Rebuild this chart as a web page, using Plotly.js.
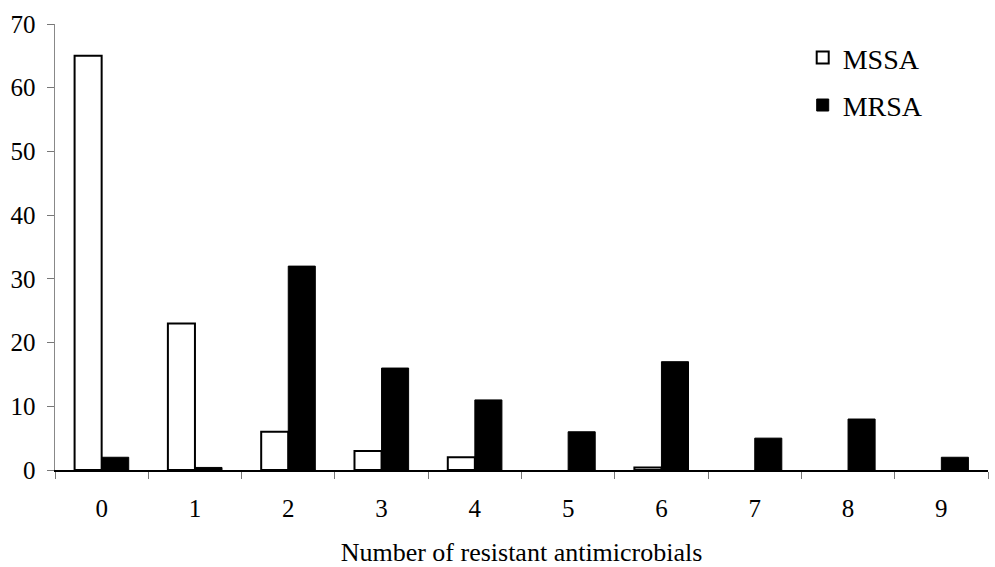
<!DOCTYPE html>
<html>
<head>
<meta charset="utf-8">
<script src="https://cdn.plot.ly/plotly-3.0.1.min.js"></script>
<style>html,body{margin:0;padding:0;background:#fff;}#chart{width:995px;height:567px;}</style>
</head>
<body>
<div id="chart"></div>
<script>
const categories = ["0","1","2","3","4","5","6","7","8","9"];
const mssa = [65, 23, 6, 3, 2, 0, 0.4, 0, 0, 0];
const mrsa = [2, 0.4, 32, 16, 11, 6, 17, 5, 8, 2];
const yTicks = [0, 10, 20, 30, 40, 50, 60, 70];

const font = {family: "'Liberation Serif', 'Times New Roman', serif", color: "#000", size: 25};

const traces = [
  {type: "bar", name: "MSSA", x: categories, y: mssa, legendgroup: "a",
   marker: {color: "#ffffff", line: {color: "#000", width: mssa.map(v => v === 0 ? 0 : 2)}}},
  {type: "bar", name: "MRSA", x: categories, y: mrsa, legendgroup: "b",
   marker: {color: "#000000", line: {color: "#000", width: mrsa.map(v => v === 0 ? 0 : 1)}}}
];

const layout = {
  width: 995, height: 567,
  margin: {l: 55, r: 7, t: 24, b: 97},
  paper_bgcolor: "#fff", plot_bgcolor: "#fff",
  font: font,
  barmode: "group", bargap: 0.42, bargroupgap: 0,
  showlegend: true,
  legend: {x: 0.8014, y: 0.98, xanchor: "left", yanchor: "top", font: {size: 28},
           bgcolor: "rgba(0,0,0,0)", itemwidth: 30, traceorder: "grouped", tracegroupgap: 8},
  xaxis: {type: "category", showline: true, linecolor: "#000", linewidth: 1.5,
          ticks: "outside", tickson: "boundaries", ticklen: 7, tickcolor: "#777",
          ticklabelstandoff: 15, automargin: false,
          showgrid: false, zeroline: false,
          title: {text: "Number of resistant antimicrobials", font: {size: 26}, standoff: 29}},
  yaxis: {range: [0, 70], tickvals: yTicks, showline: true, linecolor: "#888", linewidth: 1.5,
          ticks: "outside", ticklen: 7, tickcolor: "#777", ticklabelstandoff: 6, automargin: false,
          showgrid: false, zeroline: false}
};

Plotly.newPlot("chart", traces, layout, {displayModeBar: false, staticPlot: true});
</script>
</body>
</html>
